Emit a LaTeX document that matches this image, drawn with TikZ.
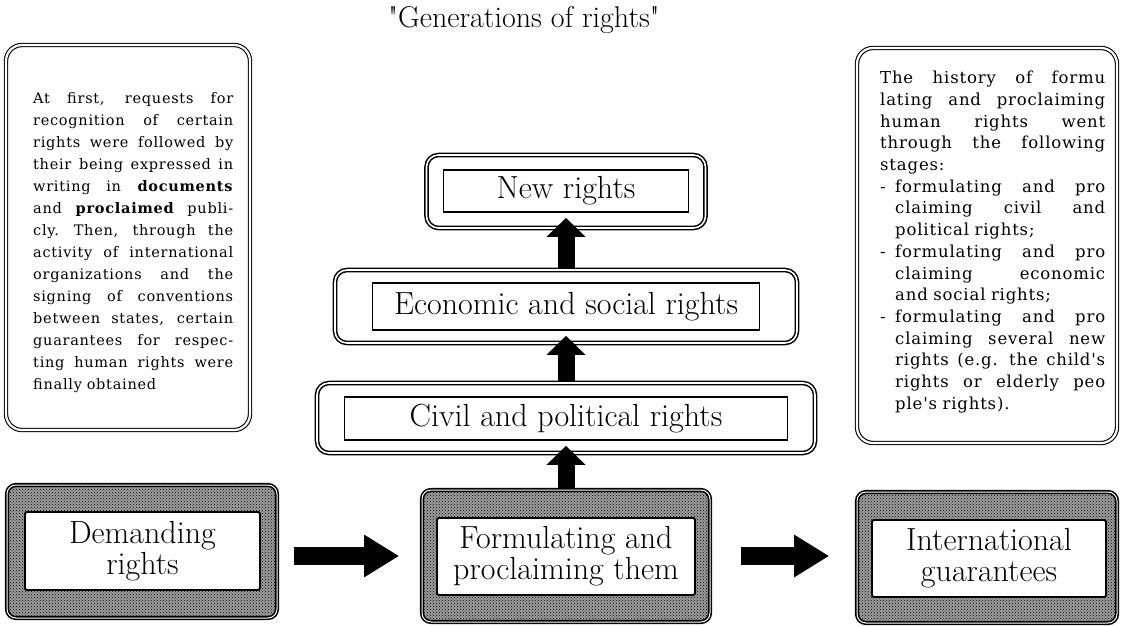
\documentclass[tikz,border=0pt]{standalone}
\usepackage{fontspec}
\newfontfamily\sidefont{DejaVu Serif}[LetterSpace=5]
\newfontfamily\plainlm{Latin Modern Roman}[Ligatures=TeXOff]
\usetikzlibrary{arrows.meta,patterns,calc}
\newdimen\colw
\newcommand\jbox[2]{\leavevmode{\spaceskip=0.33em plus 1fil\xspaceskip=0.5em plus 1fil\hbox to #1{#2}}}
\newcommand\jtxt[1]{\jbox{\colw}{#1}}
\newcommand\ltxt[1]{\makebox[\colw][l]{#1}}
\newcommand\bjtxt[1]{\makebox[15pt][l]{-}\jbox{\dimexpr\colw-15pt\relax}{#1}}
\newcommand\ijtxt[1]{\hspace*{15pt}\jbox{\dimexpr\colw-15pt\relax}{#1}}
\newcommand\iltxt[1]{\hspace*{15pt}\makebox[\dimexpr\colw-15pt][l]{#1}}
\tikzset{
  sidebox/.style={draw, line width=1.1pt, double=white, double distance=2.2pt, rounded corners=16pt, inner sep=0pt},
  sidetext/.style={inner sep=0pt, align=left, font=\sidefont\fontsize{14.5}{22}\selectfont},
  midout/.style={draw, line width=1.5pt, double=white, double distance=1.6pt, rounded corners=12pt, inner sep=0pt},
  midin/.style={draw, line width=1.8pt, inner sep=0pt, font=\fontsize{32}{31}\selectfont},
  shadebox/.style={draw, line width=1.6pt, double=white, double distance=1pt, rounded corners=9pt, inner sep=0pt,
    preaction={fill=black!38}, pattern=crosshatch dots, pattern color=black},
  whitebox/.style={draw, line width=1.8pt, fill=white, rounded corners=1.5pt, inner sep=0pt, align=center,
    font=\fontsize{32}{31}\selectfont},
  varrow/.style={line width=17pt, -{Triangle[width=38pt,length=19pt]}, shorten >=5pt},
  harrow/.style={line width=18pt, -{Triangle[width=40pt,length=35pt]}}
}
\begin{document}
\begin{tikzpicture}[x=1pt,y=-1pt]
\useasboundingbox[fill=white] (0,0) rectangle (1121,626);

\node[font=\plainlm\fontsize{30}{32}\selectfont] (title) at (524,20) {"Generations of rights"};

% side boxes
\node[sidebox, minimum width=244pt, minimum height=385pt] (leftO) at (128,237.5) {};
\node[sidetext, text width=200pt, anchor=north west] (ltext) at (33,92) {\colw=200pt\relax
\jtxt{At first, requests for}\\
\jtxt{recognition of certain}\\
\jtxt{rights were followed by}\\
\jtxt{their being expressed in}\\
\jtxt{writing in \textbf{documents}}\\
\jtxt{and \textbf{proclaimed} publi-}\\
\jtxt{cly. Then, through the}\\
\jtxt{activity of international}\\
\jtxt{organizations and the}\\
\jtxt{signing of conventions}\\
\jtxt{between states, certain}\\
\jtxt{guarantees for respec-}\\
\jtxt{ting human rights were}\\
\ltxt{finally obtained}};

\node[sidebox, minimum width=260pt, minimum height=395pt] (rightO) at (987,245.5) {};
\node[sidetext, font=\sidefont\fontsize{16.5}{21.7}\selectfont, text width=225pt, anchor=north west] (rtext) at (880,71) {\colw=225pt\relax
\jtxt{The history of formu}\\
\jtxt{lating and proclaiming}\\
\jtxt{human rights went}\\
\jtxt{through the following}\\
\ltxt{stages:}\\
\bjtxt{formulating and pro}\\
\ijtxt{claiming civil and}\\
\iltxt{political rights;}\\
\bjtxt{formulating and pro}\\
\ijtxt{claiming economic}\\
\iltxt{and social rights;}\\
\bjtxt{formulating and pro}\\
\ijtxt{claiming several new}\\
\ijtxt{rights (e.g. the child's}\\
\ijtxt{rights or elderly peo}\\
\iltxt{ple's rights).}};

% middle stack
\node[midout, minimum width=279pt, minimum height=73pt] (newO) at (566,191.5) {};
\node[midin, minimum width=245pt, minimum height=42pt] (newI) at (566,191) {New rights};
\node[midout, minimum width=462pt, minimum height=73pt] (econO) at (566,306.5) {};
\node[midin, minimum width=387pt, minimum height=47pt] (econI) at (566,306.5) {Economic and social rights};
\node[midout, minimum width=498pt, minimum height=70pt] (civO) at (566,418) {};
\node[midin, minimum width=443pt, minimum height=43pt] (civI) at (566,418.5) {Civil and political rights};

% bottom row
\node[shadebox, minimum width=270pt, minimum height=133pt] (demO) at (142,551.5) {};
\node[whitebox, minimum width=235pt, minimum height=78pt] (demI) at (142.5,551) {Demanding\\rights};
\node[shadebox, minimum width=288pt, minimum height=132pt] (formO) at (566,556) {};
\node[whitebox, minimum width=258pt, minimum height=77pt] (formI) at (566,556.5) {Formulating and\\proclaiming them};
\node[shadebox, minimum width=260pt, minimum height=131pt] (intlO) at (987,557.5) {};
\node[whitebox, minimum width=234pt, minimum height=77pt] (intlI) at (989,558.5) {International\\guarantees};

% arrows
\draw[varrow] (formO.north) -- (civI.south);
\draw[varrow] (civO.north) -- (econI.south);
\draw[varrow] (econO.north) -- (newI.south);
\coordinate (h1) at (demO.east |- formO.west);
\draw[harrow] ([xshift=16pt]h1) -- ([xshift=-22pt]formO.west);
\coordinate (h2) at (intlO.west |- formO.east);
\draw[harrow] ([xshift=30pt]formO.east) -- ([xshift=-27pt]h2);
\end{tikzpicture}
\end{document}
